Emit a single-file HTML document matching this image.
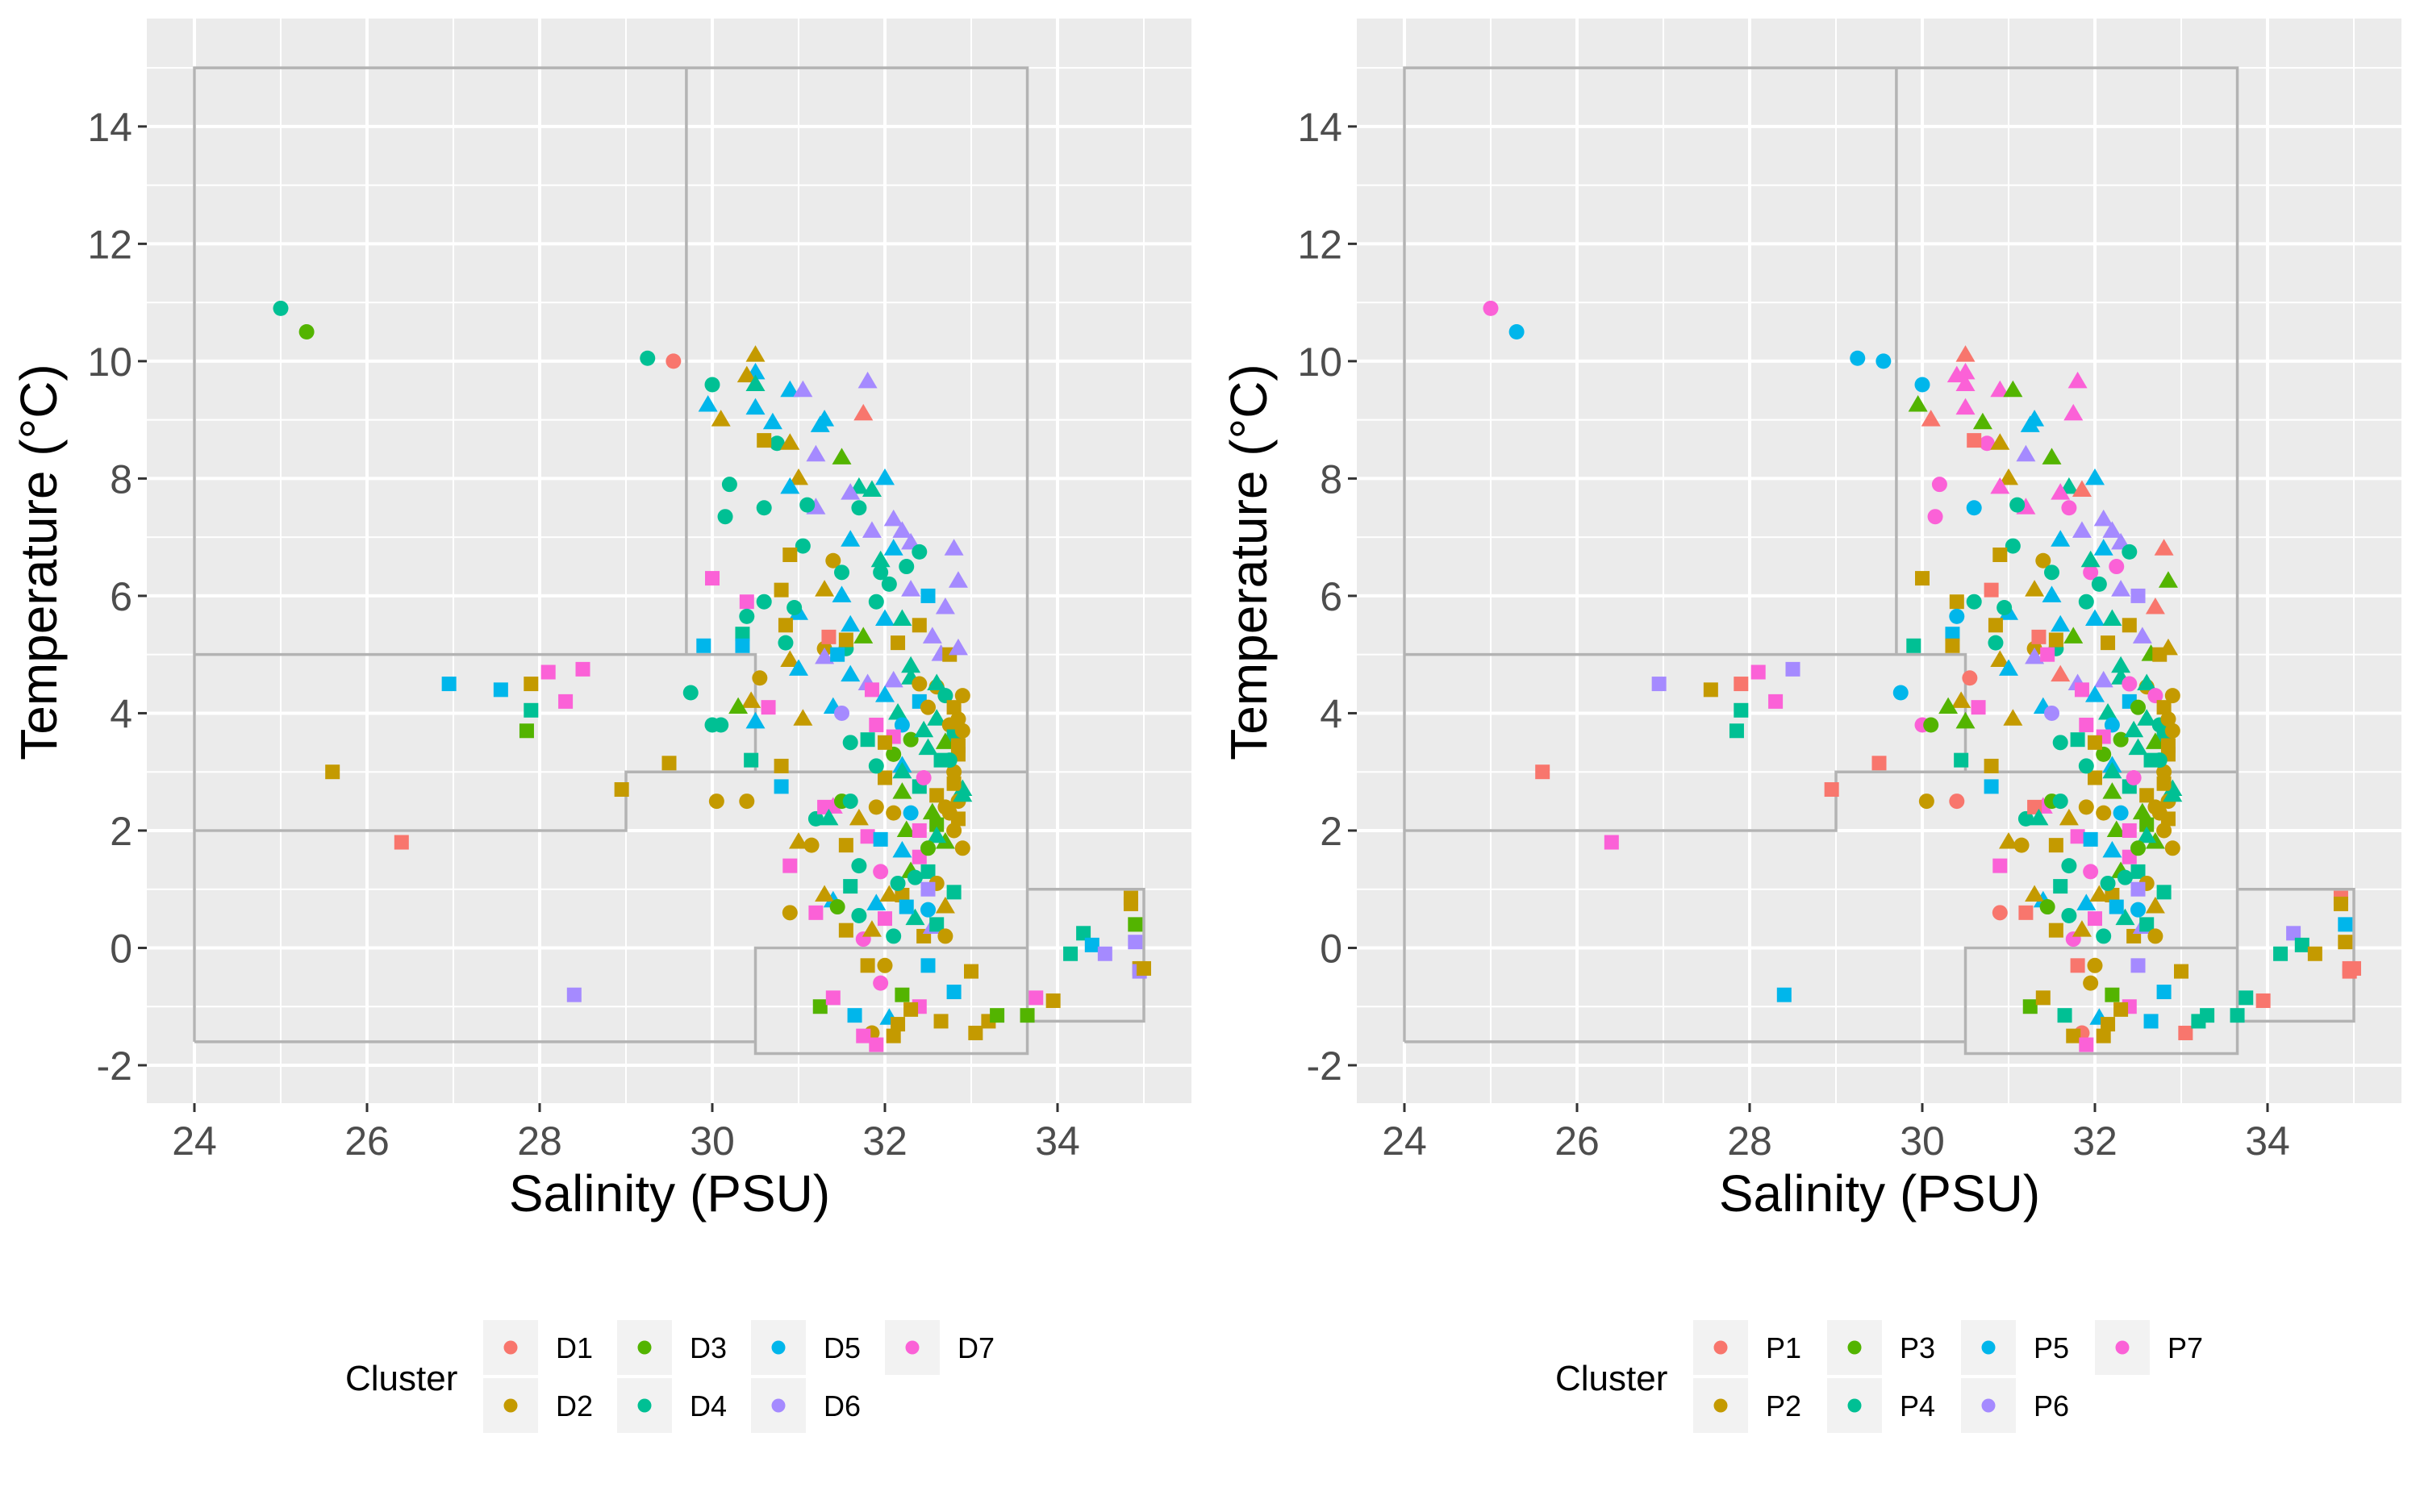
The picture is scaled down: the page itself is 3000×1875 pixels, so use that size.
<!DOCTYPE html>
<html><head><meta charset="utf-8">
<style>
html,body{margin:0;padding:0;background:#fff;}
svg{display:block;font-family:"Liberation Sans",Arial,sans-serif;}
</style></head>
<body>
<svg id="chart" width="3000" height="1875" viewBox="0 0 3000 1875" xmlns="http://www.w3.org/2000/svg"></svg>
<script>
// ---- data ----
const xTicks = [24, 26, 28, 30, 32, 34];
const yTicks = [-2, 0, 2, 4, 6, 8, 10, 12, 14];
const leftLabels = ["D1","D2","D3","D4","D5","D6","D7"];
const rightLabels = ["P1","P2","P3","P4","P5","P6","P7"];
const palette = ["#F8766D","#C49A00","#53B400","#00C094","#00B6EB","#A58AFF","#FB61D7"];
// salinity, temperature, shape(0 circle,1 triangle,2 square), D cluster, P cluster
const salinity = [25.0,25.3,29.25,29.55,25.6,26.4,26.95,27.55,27.9,27.9,27.85,28.3,28.1,28.5,28.4,28.95,29.5,29.75,30.0,30.1,29.95,30.5,30.5,30.4,30.5,30.5,30.9,31.05,31.8,31.75,31.3,31.25,30.7,30.2,30.15,30.75,
30.6,30.9,31.2,31.5,31.0,30.8,30.9,31.7,31.6,31.85,32.0,32.1,32.2,32.3,32.4,32.8,32.85,31.7,31.2,30.6,31.1,31.6,31.4,31.05,31.5,30.9,31.3,31.0,31.5,31.95,32.05,32.3,32.5,32.55,32.65,32.75,32.85,
30.0,30.4,30.6,30.4,30.35,30.85,30.85,31.3,31.55,30.9,31.0,31.3,31.6,31.8,32.1,32.3,32.4,32.6,32.9,30.0,30.1,30.5,30.55,30.65,30.45,30.3,30.45,30.8,30.8,30.4,31.05,31.4,31.5,31.85,32.0,32.15,32.2,32.4,32.5,32.6,32.75,32.85,32.8,32.7,32.85,32.8,32.65,32.5,32.3,32.1,31.9,31.8,31.6,
30.9,31.0,31.15,31.2,31.4,31.5,31.6,31.3,31.35,31.7,31.55,31.8,31.95,32.1,32.2,32.3,32.4,32.5,32.6,32.7,32.8,32.8,32.6,32.4,32.2,31.9,31.7,31.6,31.4,31.3,31.45,31.7,31.75,31.9,32.0,32.1,32.2,32.35,32.45,32.5,32.55,31.2,30.9,31.55,31.85,32.0,31.95,32.2,32.5,31.8,32.4,32.05,32.15,31.65,31.25,31.4,31.85,31.75,31.9,32.1,32.65,32.8,33.05,33.2,33.3,33.65,33.75,33.95,34.15,34.3,34.4,34.55,34.85,34.85,34.9,34.9,34.95,34.95,35.0,33.0,32.3,
30.95,30.35,29.9,30.05,31.35,31.55,31.45,32.9,32.75,32.6,32.45,32.2,32.0,31.9,32.7,32.85,32.5,32.25,
32.6,32.7,32.8,32.9,32.85,32.75,32.8,32.9,32.7,32.85,32.6,32.5,32.4,32.3,32.2,32.1,32.0,32.45,32.55,32.35,32.25,32.15,32.05,31.95,32.6,32.7,32.3,32.15,32.0,31.9,32.2,31.95,32.1,32.25,31.85,32.4,32.7,31.75,31.6,32.9];
const temperature = [10.9,10.5,10.05,10.0,3.0,1.8,4.5,4.4,4.5,4.05,3.7,4.2,4.7,4.75,-0.8,2.7,3.15,4.35,9.6,9.0,9.25,10.1,9.8,9.75,9.6,9.2,9.5,9.5,9.65,9.1,9.0,8.9,8.95,7.9,7.35,8.6,
8.65,8.6,8.4,8.35,8.0,6.1,7.85,7.85,7.75,7.8,8.0,7.3,7.1,6.9,6.75,6.8,6.25,7.5,7.5,7.5,7.55,6.95,6.6,6.85,6.4,6.7,6.1,5.7,6.0,6.4,6.2,6.1,6.0,5.3,5.0,5.0,5.1,
6.3,5.9,5.9,5.65,5.35,5.5,5.2,5.1,5.1,4.9,4.75,4.95,4.65,4.5,4.55,4.6,4.5,4.45,4.3,3.8,3.8,3.85,4.6,4.1,4.2,4.1,3.2,3.1,2.75,2.5,3.9,4.1,4.0,4.4,4.3,4.0,3.8,4.2,4.1,3.9,3.8,3.9,3.6,3.5,3.3,3.0,3.2,3.4,3.55,3.6,3.8,3.55,3.5,
1.4,1.8,1.75,2.2,2.4,2.5,2.5,2.4,2.2,2.2,1.75,1.9,1.85,2.3,1.65,1.3,1.55,1.3,1.1,0.7,0.95,2.0,2.6,2.75,2.65,2.4,1.4,1.05,0.8,0.9,0.7,0.55,0.15,0.75,0.5,0.2,0.9,0.5,0.2,0.65,0.35,0.6,0.6,0.3,0.3,-0.3,-0.6,-0.8,-0.3,-0.3,-1.0,-1.2,-1.3,-1.15,-1.0,-0.85,-1.45,-1.5,-1.65,-1.5,-1.25,-0.75,-1.45,-1.25,-1.15,-1.15,-0.85,-0.9,-0.1,0.25,0.05,-0.1,0.85,0.75,0.4,0.1,-0.35,-0.4,-0.35,-0.4,-1.05,
5.8,5.15,5.15,2.5,5.3,5.25,5.0,2.7,2.3,2.1,2.9,3.1,2.9,3.1,1.8,2.5,1.0,2.0,
4.5,4.3,4.1,3.7,3.45,3.2,2.8,2.6,2.4,2.2,1.9,1.7,2.0,2.3,3.0,3.3,3.5,3.7,2.3,1.2,0.7,1.1,0.9,1.3,0.4,0.2,4.8,5.2,5.6,5.9,5.6,6.6,6.8,6.5,7.1,5.5,5.8,5.3,5.5,1.7];
const shapes = [0,0,0,0,2,2,2,2,2,2,2,2,2,2,2,2,2,0,0,1,1,1,1,1,1,1,1,1,1,1,1,1,1,0,0,0,
2,1,1,1,1,2,1,1,1,1,1,1,1,1,0,1,1,0,1,0,0,1,0,0,0,2,1,1,1,0,0,1,2,1,1,2,1,
2,2,0,0,2,2,0,0,0,1,1,1,1,1,1,1,0,0,0,0,0,1,0,2,1,1,2,2,2,0,1,1,0,2,1,1,0,2,0,1,0,0,2,1,2,0,2,1,0,2,2,2,0,
2,1,0,0,1,0,0,2,1,1,2,2,2,0,1,1,2,2,0,1,2,0,2,2,1,0,0,2,1,1,0,0,0,1,2,0,2,1,2,0,1,2,0,2,1,0,0,2,2,2,2,1,2,2,2,2,0,2,2,2,2,2,2,2,2,2,2,2,2,2,2,2,2,2,2,2,2,2,2,2,2,
0,2,2,0,2,2,2,1,0,2,0,1,2,0,1,0,2,1,
1,0,2,0,2,0,2,1,0,2,1,0,2,0,1,0,2,1,1,0,2,0,1,0,2,0,1,2,1,0,1,1,1,0,1,2,1,1,1,0];
const clusterD = [4,3,4,1,2,1,5,5,2,4,3,7,7,7,6,2,2,4,4,2,5,2,5,2,4,5,5,6,6,1,5,5,5,4,4,4,
2,2,6,3,2,2,5,4,6,4,5,6,6,6,4,6,6,4,6,4,4,5,2,4,4,2,2,5,5,4,4,6,5,6,6,2,6,
7,7,4,4,4,2,4,2,4,2,5,6,5,6,6,4,2,2,2,4,4,5,2,7,2,3,4,2,5,2,2,5,6,7,5,4,5,5,2,4,2,2,4,3,2,2,4,4,3,7,7,4,4,
7,2,2,4,7,3,4,7,4,2,2,7,5,2,5,3,7,4,2,2,4,2,2,4,3,2,4,4,5,2,3,4,7,5,7,4,2,4,2,5,6,7,2,2,2,2,7,3,5,2,7,5,2,5,3,7,2,7,7,2,2,5,2,2,3,3,7,2,4,4,5,6,2,2,3,6,2,6,2,2,2,
4,5,5,2,1,2,5,4,2,3,7,5,2,4,3,2,6,3,
4,4,2,2,2,4,2,4,2,2,4,3,7,5,4,3,2,4,3,4,5,4,2,7,4,2,4,2,5,4,4,4,5,4,6,2,6,3,5,2];
const clusterP = [7,5,5,5,1,7,6,2,1,4,4,7,7,6,5,1,1,5,5,1,3,1,7,7,7,7,7,3,7,7,5,5,3,7,7,7,
1,2,6,3,2,1,7,4,7,1,5,6,6,6,4,1,3,7,7,5,4,5,2,4,4,2,2,5,5,7,4,6,6,6,3,2,2,
2,2,4,5,5,2,4,2,4,2,5,6,1,6,6,4,7,2,2,7,3,3,1,7,2,3,4,2,5,1,2,5,6,7,5,4,5,5,3,4,4,2,4,3,2,2,4,4,3,7,7,4,4,
7,2,2,4,7,3,4,1,4,2,2,7,5,2,5,3,7,4,2,2,4,2,2,4,3,2,4,4,5,2,3,4,7,5,7,4,2,4,2,5,6,1,1,2,2,2,2,3,6,1,7,5,2,4,3,2,1,2,7,2,5,5,1,4,4,4,4,1,4,6,4,2,1,2,5,2,1,1,1,2,2,
4,2,4,2,1,2,7,4,2,3,7,5,2,4,3,2,6,3,
4,7,2,2,2,4,2,4,2,2,4,3,7,5,4,3,2,4,3,4,5,4,2,7,4,2,4,2,5,4,4,4,5,7,6,2,1,3,5,2];

// ---- layout ----
const NS = "http://www.w3.org/2000/svg";
const svg = document.getElementById("chart");
function mk(tag, attrs, parent) {
  const e = document.createElementNS(NS, tag);
  for (const k in attrs) e.setAttribute(k, attrs[k]);
  (parent || svg).appendChild(e);
  return e;
}
const PX0 = 182, PX1 = 1477, PY0 = 23, PY1 = 1368;
function xs(v) { return 241 + (v - 24) * 107; }
function ys(v) { return 1321 - (v + 2) * 72.76; }

const regionLines = [
  [[24,-1.6],[24,15],[33.65,15],[33.65,-1.8],[30.5,-1.8],[30.5,0],[33.65,0]],
  [[29.7,15],[29.7,5]],
  [[24,5],[30.5,5],[30.5,3]],
  [[24,2],[29,2],[29,3],[33.65,3]],
  [[24,-1.6],[30.5,-1.6]],
  [[33.65,1],[35,1],[35,-1.25],[33.65,-1.25]]
];

function panel(off, labels, clusters, nameP) {
  const g = mk("g", {transform: "translate(" + off + ",0)"});
  
  
  const bg = mk("rect", {x: PX0, y: PY0, width: PX1 - PX0, height: PY1 - PY0, fill: "#ebebeb"}, g);
  
  
  for (let v = 25; v <= 35; v += 2) mk("line", {x1: xs(v), x2: xs(v), y1: PY0, y2: PY1, stroke: "#fff", "stroke-width": 2}, g);
  for (let v = -1; v <= 15; v += 2) mk("line", {x1: PX0, x2: PX1, y1: ys(v), y2: ys(v), stroke: "#fff", "stroke-width": 2}, g);
  xTicks.forEach(v => {
    mk("line", {x1: xs(v), x2: xs(v), y1: PY0, y2: PY1, stroke: "#fff", "stroke-width": 4}, g);
    mk("line", {x1: xs(v), x2: xs(v), y1: PY1, y2: PY1 + 11, stroke: "#333", "stroke-width": 3}, g);
    const t = mk("text", {x: xs(v), y: 1432, "font-size": 50, fill: "#4d4d4d", "text-anchor": "middle"}, g);
    t.textContent = v;
    
    
  });
  yTicks.forEach(v => {
    mk("line", {x1: PX0, x2: PX1, y1: ys(v), y2: ys(v), stroke: "#fff", "stroke-width": 4}, g);
    mk("line", {x1: PX0 - 11, x2: PX0, y1: ys(v), y2: ys(v), stroke: "#333", "stroke-width": 3}, g);
    const t = mk("text", {x: PX0 - 18, y: ys(v) + 18, "font-size": 50, fill: "#4d4d4d", "text-anchor": "end"}, g);
    t.textContent = v;
    
    
  });
  regionLines.forEach(pl => {
    const p = mk("polyline", {points: pl.map(q => xs(q[0]) + "," + ys(q[1])).join(" "), fill: "none", stroke: "#b3b3b3", "stroke-width": 3.5}, g);
    
    
  });
  for (let i = 0; i < salinity.length; i++) {
    const cx = xs(salinity[i]), cy = ys(temperature[i]);
    const col = palette[clusters[i] - 1];
    let e;
    if (shapes[i] === 0) e = mk("circle", {cx: cx, cy: cy, r: 9.5, fill: col}, g);
    else if (shapes[i] === 1) e = mk("polygon", {points: (cx) + "," + (cy - 12.5) + " " + (cx - 12) + "," + (cy + 8) + " " + (cx + 12) + "," + (cy + 8), fill: col}, g);
    else e = mk("rect", {x: cx - 9, y: cy - 9, width: 18, height: 18, fill: col}, g);
    
    
  }
  const xt = mk("text", {x: 830, y: 1502, "font-size": 64, fill: "#000", "text-anchor": "middle"}, g);
  xt.textContent = "Salinity (PSU)";
  
  
  const yt = mk("text", {x: 0, y: 0, "font-size": 64, fill: "#000", "text-anchor": "middle", transform: "translate(70,697) rotate(-90)"}, g);
  yt.textContent = "Temperature (°C)";
  
  
  const lt = mk("text", {x: 428, y: 1724, "font-size": 44, fill: "#000"}, g);
  lt.textContent = "Cluster";
  
  
  labels.forEach((lab, k) => {
    const col = Math.floor(k / 2), row = k % 2;
    const bx = 599 + col * 166, by = 1637 + row * 72;
    const lg = mk("g", {}, g);
    
    
    mk("rect", {x: bx, y: by, width: 68, height: 68, fill: "#f2f2f2"}, lg);
    mk("circle", {cx: bx + 34, cy: by + 34, r: 8.5, fill: palette[k]}, lg);
    const tt = mk("text", {x: bx + 90, y: by + 47, "font-size": 36, fill: "#000"}, lg);
    tt.textContent = lab;
  });
}
panel(0, leftLabels, clusterD, "left");
panel(1500, rightLabels, clusterP, "right");
</script>
</body></html>
